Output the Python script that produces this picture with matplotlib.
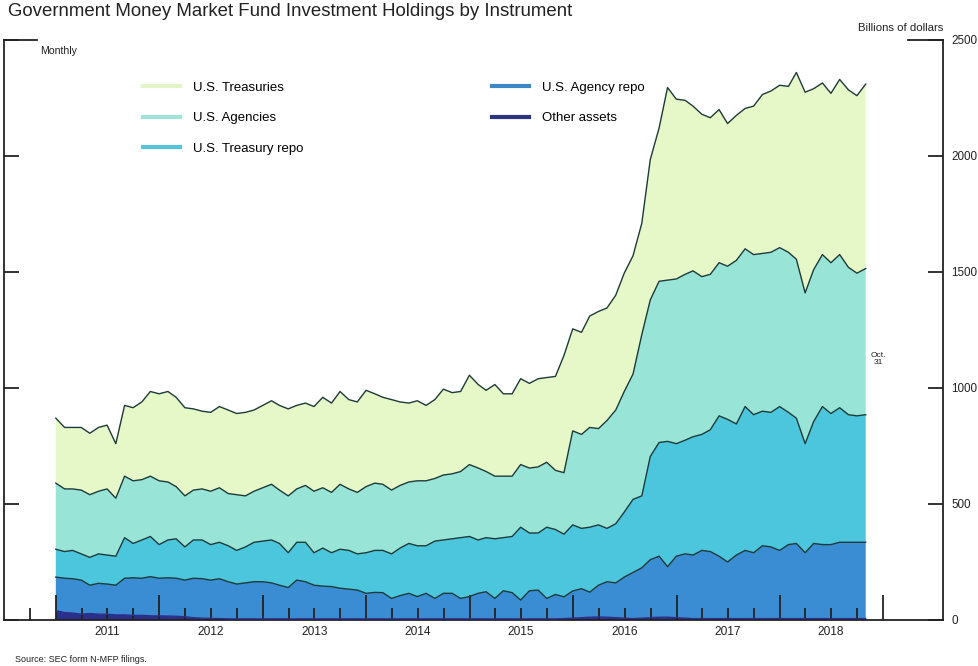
import numpy as np
import pandas as pd
import matplotlib
matplotlib.use('Agg')
import matplotlib.pyplot as plt
import matplotlib.dates as mdates
from matplotlib.lines import Line2D
from matplotlib.ticker import FixedLocator
from datetime import date

plt.rcParams['font.family'] = ['Liberation Sans', 'DejaVu Sans']

# month-end observations, Dec 2010 .. Oct 2018 (billions of dollars)
try:
    months = pd.date_range('2010-12-31', '2018-10-31', freq='ME')
except ValueError:
    months = pd.date_range('2010-12-31', '2018-10-31', freq='M')

treasuries = [280, 265, 265, 270, 265, 275, 275, 235, 305, 315, 335, 365, 375, 390, 385, 380, 350, 335, 340, 350,
              360, 350, 360, 350, 355, 360, 365, 375, 360, 355, 365, 390, 385, 400, 385, 390, 415, 385, 375, 390,
              360, 340, 345, 325, 340, 370, 350, 345, 385, 360, 350, 395, 355, 355, 370, 365, 380, 365, 405, 505,
              440, 440, 480, 505, 485, 495, 510, 510, 480, 605, 660, 830, 775, 750, 710, 700, 675, 660, 615, 625,
              605, 640, 685, 695, 700, 715, 805, 865, 780, 740, 730, 755, 765, 765, 795]
agencies = [285, 270, 265, 275, 270, 270, 285, 250, 265, 270, 260, 260, 275, 250, 225, 220, 215, 220, 230, 235,
            225, 240, 220, 220, 230, 240, 230, 245, 230, 245, 265, 260, 260, 280, 265, 265, 285, 290, 285, 275,
            270, 265, 280, 280, 270, 280, 280, 285, 310, 310, 285, 270, 265, 260, 270, 280, 285, 280, 255, 265,
            405, 405, 430, 415, 465, 490, 520, 540, 695, 675, 695, 695, 710, 715, 715, 680, 670, 660, 660, 705,
            680, 690, 680, 690, 685, 690, 685, 650, 655, 655, 650, 660, 635, 615, 630]
treasury_repo = [120, 115, 122, 113, 120, 127, 125, 125, 175, 148, 165, 173, 145, 163, 170, 143, 165, 167, 153, 157,
                 155, 145, 155, 170, 175, 185, 180, 150, 163, 170, 140, 164, 146, 168, 167, 156, 175, 181, 182, 192,
                 205, 215, 219, 205, 247, 230, 235, 262, 259, 230, 233, 257, 229, 242, 314, 249, 246, 307, 280, 270,
                 285, 260, 280, 260, 230, 255, 280, 315, 310, 445, 490, 540, 485, 490, 510, 500, 525, 605, 615, 565,
                 620, 595, 580, 580, 620, 570, 540, 470, 525, 595, 565, 580, 550, 545, 550]
agency_repo = [145, 148, 148, 147, 122, 133, 130, 128, 158, 162, 160, 169, 162, 165, 164, 158, 170, 170, 165, 172,
               160, 150, 155, 160, 160, 155, 145, 135, 167, 160, 145, 141, 139, 132, 128, 124, 110, 114, 113, 88,
               100, 110, 96, 110, 88, 110, 110, 88, 96, 110, 117, 88, 121, 113, 81, 121, 124, 88, 105, 94,
               117, 125, 108, 137, 153, 150, 177, 199, 217, 250, 263, 218, 265, 277, 274, 294, 289, 269, 244, 274,
               294, 284, 314, 309, 294, 319, 324, 284, 324, 319, 319, 329, 329, 329, 329]
other_assets = [40, 32, 30, 25, 28, 25, 25, 22, 22, 20, 20, 18, 18, 17, 16, 14, 10, 8, 7, 6,
                5, 5, 5, 5, 5, 5, 5, 5, 5, 5, 5, 5, 5, 5, 5, 5, 5, 5, 5, 5,
                5, 5, 5, 5, 5, 5, 5, 5, 5, 5, 5, 5, 5, 5, 5, 5, 5, 5, 5, 6,
                8, 10, 12, 13, 12, 10, 8, 6, 8, 10, 12, 12, 10, 8, 6, 6, 6, 6, 6, 6,
                6, 6, 6, 6, 6, 6, 6, 6, 6, 6, 6, 6, 6, 6, 6]

labels = ['U.S. Treasuries', 'U.S. Agencies', 'U.S. Treasury repo', 'U.S. Agency repo', 'Other assets']
fill_colors = ['#e6f8c8', '#98e4d6', '#4cc6dc', '#3a8dd2', '#2b2f8c']
legend_colors = ['#e2f5c6', '#9fe2d6', '#58c3d8', '#3d86c6', '#2d3580']
years = list(range(2011, 2019))

# stack from the bottom up
stack = [other_assets, agency_repo, treasury_repo, agencies, treasuries]
fig = plt.figure(figsize=(9.79, 6.66), dpi=100)
ax = fig.add_axes([4 / 979, 46 / 666, 939 / 979, 580 / 666])

ax.stackplot(months, *stack, colors=fill_colors[::-1], linewidth=0)
tops = np.cumsum(np.array(stack), axis=0)
for i, top in enumerate(tops):
    c = '#2b2f8c' if i == 0 else '#1e3a3a'
    ax.plot(months, top, color=c, lw=1.0, zorder=3)

ax.set_xlim(date(2010, 7, 1), date(2019, 7, 31))
ax.set_ylim(0, 2500)

# x ticks: long at each January, short at the other quarters
jan = pd.date_range('2011-01-01', '2019-01-01', freq='YS')
qtr = [d for d in pd.date_range('2010-10-01', '2018-10-01', freq='QS-JAN') if d.month != 1]
ax.xaxis.set_major_locator(FixedLocator(mdates.date2num(jan.to_pydatetime())))
ax.xaxis.set_minor_locator(FixedLocator(mdates.date2num([d.to_pydatetime() for d in qtr])))
ax.tick_params(axis='x', which='major', direction='in', length=18, width=1.3, color='#222222',
               labelbottom=False)
ax.tick_params(axis='x', which='minor', direction='in', length=9, width=1.3, color='#222222')
for yr in years:
    ax.text(date(yr, 7, 1), -0.021, str(yr), transform=ax.get_xaxis_transform(),
            ha='center', va='center', fontsize=8.6, color='#222222')

# y axis labelled on the right, ticks inward on both sides
ax.set_yticks([0, 500, 1000, 1500, 2000, 2500])
ax.tick_params(axis='y', direction='in', length=11, width=1.3, color='#222222', left=True, right=True,
               labelleft=False, labelright=True, labelsize=8.4, pad=6, labelcolor='#222222')

for s in ['left', 'right', 'bottom']:
    ax.spines[s].set_linewidth(1.3)
    ax.spines[s].set_color('#222222')
ax.spines['top'].set_visible(False)
ax.plot([0, 0.035], [1, 1], transform=ax.transAxes, color='#222222', lw=1.3, clip_on=False)
ax.plot([0.9627, 1], [1, 1], transform=ax.transAxes, color='#222222', lw=1.3, clip_on=False)

handles = [Line2D([], [], color=c, lw=3) for c in legend_colors]
ax.legend(handles, labels, ncol=2, loc='upper left', bbox_to_anchor=(0.148, 0.928), frameon=False,
          fontsize=9.5, handlelength=2.8, handletextpad=1.0, columnspacing=14.3, labelspacing=1.38,
          borderpad=0, borderaxespad=0)

ax.text(0.9308, 0.45, 'Oct.\n31', transform=ax.transAxes, ha='center', va='center',
        fontsize=6, color='#222222', linespacing=1.1)

fig.text(8 / 979, 1 - 12 / 666, 'Government Money Market Fund Investment Holdings by Instrument',
         ha='left', va='center', fontsize=13.4, color='#222222')
fig.text(943 / 979, 1 - 28 / 666, 'Billions of dollars', ha='right', va='center', fontsize=8.2, color='#222222')
fig.text(40 / 979, 1 - 51 / 666, 'Monthly', ha='left', va='center', fontsize=7.6, color='#222222')
fig.text(15 / 979, 1 - 660 / 666, 'Source: SEC form N-MFP filings.', ha='left', va='center',
         fontsize=6.5, color='#222222')

fig.savefig('out.png', dpi=100)
